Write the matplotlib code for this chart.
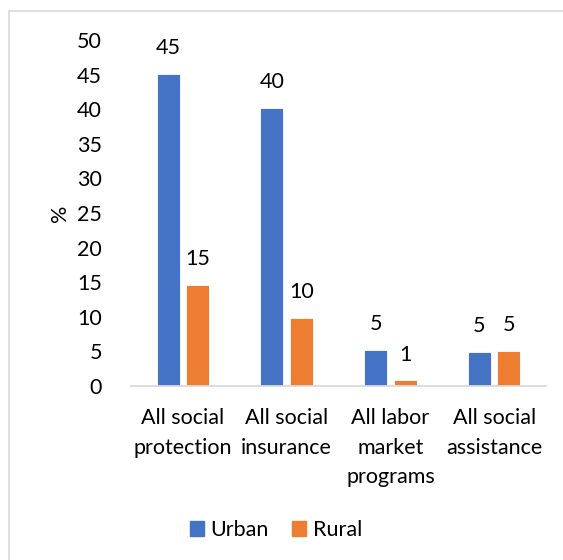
import matplotlib.pyplot as plt
from matplotlib.patches import Rectangle, Patch
import numpy as np

plt.rcParams['font.family'] = ['Lato', 'DejaVu Sans']

categories = ['All social\nprotection', 'All social\ninsurance',
              'All labor\nmarket\nprograms', 'All social\nassistance']
urban = [45.1, 40.2, 5.2, 4.9]
rural = [14.6, 9.8, 0.8, 5.1]
series_names = ['Urban', 'Rural']
colors = ['#4472C4', '#ED7D31']
yticks = [0, 5, 10, 15, 20, 25, 30, 35, 40, 45, 50]

FS = 15.5

fig = plt.figure(figsize=(5.63, 5.6), dpi=100)
ax = fig.add_axes([131 / 563, 1 - 386 / 560, 415 / 563, (386 - 40) / 560])

# light chart-area border like the Excel export
fig.patches.append(Rectangle((9 / 563, -0.1), 1.2, 1 - 11 / 560 + 0.1,
                             transform=fig.transFigure, fill=False,
                             edgecolor='#D9D9D9', linewidth=1.2))

x = np.arange(len(categories))
w = 0.22
off = 0.142
for vals, name, col, sgn in zip([urban, rural], series_names, colors, [-1, 1]):
    b = ax.bar(x + sgn * off, vals, w, color=col, label=name,
               edgecolor='white', linewidth=0.6)
    for rect, v in zip(b, vals):
        ax.annotate(f'{v:.0f}', (rect.get_x() + rect.get_width() / 2, v),
                    xytext=(0, 18.5), textcoords='offset points',
                    ha='center', va='center', fontsize=FS, color='#000000')

ax.set_xlim(-0.5, 3.5)
ax.set_ylim(0, 50)
ax.set_yticks(yticks)
ax.set_xticks(x)
ax.set_xticklabels(categories, fontsize=FS, linespacing=1.6)
ax.tick_params(axis='y', length=0, pad=21, labelsize=FS)
ax.tick_params(axis='x', length=0, pad=16)
for s in ['top', 'right', 'left']:
    ax.spines[s].set_visible(False)
ax.spines['bottom'].set_color('#D9D9D9')
ax.spines['bottom'].set_linewidth(1.3)

fig.text(60 / 563, 1 - 213 / 560, '%', rotation=90, fontsize=FS,
         ha='center', va='center')

handles = [Patch(color=c) for c in colors]
fig.legend(handles, series_names, loc='center', bbox_to_anchor=(276 / 563, 1 - 530 / 560),
           ncol=2, frameon=False, fontsize=FS, handlelength=0.65, handleheight=0.65,
           handletextpad=0.3, columnspacing=1.1)

fig.savefig('out.png', dpi=100)
